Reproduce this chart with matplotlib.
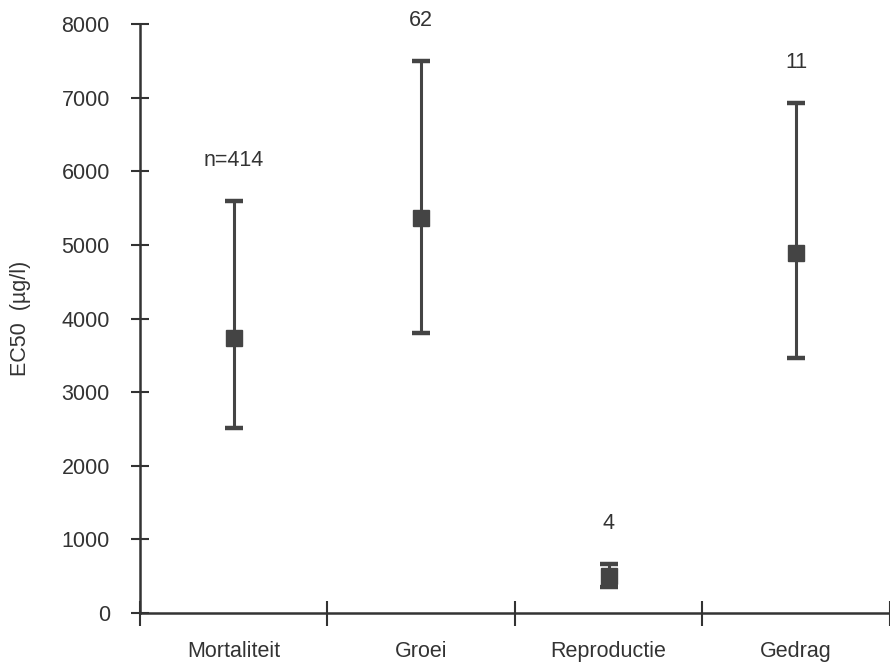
import matplotlib
matplotlib.use("Agg")
import matplotlib.pyplot as plt

# EC50 per endpoint: mean with lower/upper bounds
endpoints = ["Mortaliteit", "Groei", "Reproductie", "Gedrag"]
ec50_mean = [3740, 5360, 500, 4890]
ec50_low = [2520, 3800, 360, 3460]
ec50_high = [5600, 7500, 670, 6930]
n_labels = ["n=414", "62", "4", "11"]

plt.rcParams["font.family"] = ["Liberation Sans", "DejaVu Sans"]
ink = "#333333"

fig = plt.figure(figsize=(8.9, 6.65), dpi=100)
ax = fig.add_axes([0.157, 0.078, 0.843, 0.886])

x = [i + 0.5 for i in range(len(endpoints))]
yerr = [[m - lo for m, lo in zip(ec50_mean, ec50_low)],
        [hi - m for m, hi in zip(ec50_mean, ec50_high)]]
ax.errorbar(x, ec50_mean, yerr=yerr, fmt="s", color="#444444", ms=11,
            elinewidth=2.2, capsize=6.5, capthick=3.2, ls="none", zorder=3)

for xi, hi, lab in zip(x, ec50_high, n_labels):
    ax.annotate(lab, (xi, hi), xytext=(0, 29), textcoords="offset points",
                ha="center", va="center", fontsize=15.5, color=ink,
                annotation_clip=False)

ax.set_xlim(0, 3.97)
ax.set_ylim(0, 8000)
ax.set_yticks(range(0, 8001, 1000))
ax.set_xticks([0, 1, 2, 3, 4])
ax.set_xticklabels([])
ax.set_xticks(x, minor=True)
ax.set_xticklabels(endpoints, minor=True)

for s in ["top", "right"]:
    ax.spines[s].set_visible(False)
for s in ["left", "bottom"]:
    ax.spines[s].set_linewidth(1.8)
    ax.spines[s].set_color(ink)

ax.tick_params(axis="y", which="major", direction="inout", length=13, width=1.5,
               pad=15, labelsize=15.5, colors=ink)
ax.tick_params(axis="x", which="major", direction="inout", length=18, width=1.5,
               color=ink)
ax.tick_params(axis="x", which="minor", length=0, pad=20, labelsize=15.5,
               labelcolor=ink)

ax.set_ylabel("EC50  (µg/l)", fontsize=15.5, color=ink, labelpad=22)

fig.savefig("out.png", dpi=100)
